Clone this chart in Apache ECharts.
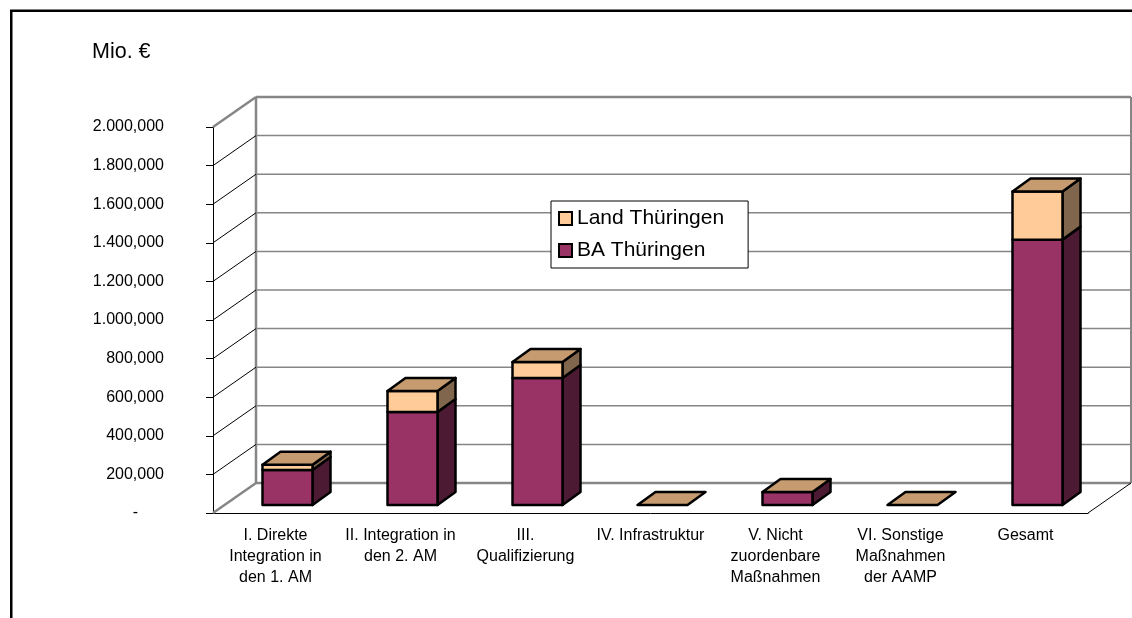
<!DOCTYPE html>
<html>
<head>
<meta charset="utf-8">
<script src="https://cdn.jsdelivr.net/npm/echarts@6/dist/echarts.min.js"></script>
<style>
	body { margin: 0; background: #fff; }
	#chart { width: 1132px; height: 618px; }
</style>
</head>
<body>
<div id="chart"></div>
<script>
var categories = [
	'I. Direkte\nIntegration in\nden 1. AM',
	'II. Integration in\nden 2. AM',
	'III.\nQualifizierung',
	'IV. Infrastruktur',
	'V. Nicht\nzuordenbare\nMaßnahmen',
	'VI. Sonstige\nMaßnahmen\nder AAMP',
	'Gesamt'
];
var baValues = [181000, 482000, 658000, 0, 67000, 0, 1375000];
var landValues = [28000, 109000, 83000, 0, 0, 0, 249000];
var yTickValues = [0, 200000, 400000, 600000, 800000, 1000000, 1200000, 1400000, 1600000, 1800000, 2000000];
var yTickLabels = ['-', '200,000', '400,000', '600,000', '800,000', '1.000,000', '1.200,000', '1.400,000', '1.600,000', '1.800,000', '2.000,000'];

(function (echarts) {
	var FONT = '"Liberation Sans", Arial, sans-serif';
	// schräge Tiefe der Wände und der Säulen
	var WALL_DX = 43, WALL_DY = 30;
	var FRONT_DX = 12, FRONT_DY = 8;
	var BAR_DX = 18, BAR_DY = 13;
	var GRAY = '#868686';

	var chart = echarts.init(document.getElementById('chart'));

	function assign(a, b) { for (var k in b) { a[k] = b[k]; } return a; }

	function renderWalls(params, api) {
		var cs = params.coordSys;
		var v = api.value(1);
		var y = api.coord([0, v])[1];
		var edge = (v === yTickValues[0] || v === yTickValues[yTickValues.length - 1]);
		var children = [
			{type: 'line', shape: {x1: cs.x + WALL_DX, y1: y - WALL_DY, x2: cs.x + cs.width + WALL_DX, y2: y - WALL_DY},
				style: {stroke: GRAY, lineWidth: edge ? 2.5 : 1.5}},
			{type: 'line', shape: {x1: cs.x, y1: y, x2: cs.x + WALL_DX, y2: y - WALL_DY},
				style: {stroke: edge ? GRAY : '#000', lineWidth: edge ? 2.5 : 1}}
		];
		if (params.dataIndex === 0) {
			children.push(
				{type: 'line', shape: {x1: cs.x + WALL_DX, y1: cs.y - WALL_DY, x2: cs.x + WALL_DX, y2: cs.y + cs.height - WALL_DY},
					style: {stroke: GRAY, lineWidth: 2.5}},
				{type: 'line', shape: {x1: cs.x + cs.width + WALL_DX, y1: cs.y - WALL_DY, x2: cs.x + cs.width + WALL_DX, y2: cs.y + cs.height - WALL_DY},
					style: {stroke: GRAY, lineWidth: 2}},
				{type: 'line', shape: {x1: cs.x + cs.width, y1: cs.y + cs.height, x2: cs.x + cs.width + WALL_DX, y2: cs.y + cs.height - WALL_DY},
					style: {stroke: '#000', lineWidth: 1}}
			);
		}
		return {type: 'group', children: children};
	}

	function makeBarRenderer(front, side, top) {
		return function (params, api) {
			var cat = api.value(0), lo = api.value(1), hi = api.value(2);
			var pLo = api.coord([cat, lo]);
			var pHi = api.coord([cat, hi]);
			var half = api.size([1, 0])[0] * 0.2;
			var xl = pLo[0] + FRONT_DX - half, xr = pLo[0] + FRONT_DX + half;
			var yb = pLo[1] - FRONT_DY, yt = pHi[1] - FRONT_DY;
			var line = {stroke: '#000', lineWidth: 2.5, lineJoin: 'round'};
			var children = [];
			if (yb - yt > 0.5) {
				children.push(
					{type: 'polygon', shape: {points: [[xr, yt], [xr + BAR_DX, yt - BAR_DY], [xr + BAR_DX, yb - BAR_DY], [xr, yb]]},
						style: assign({fill: side}, line)},
					{type: 'rect', shape: {x: xl, y: yt, width: xr - xl, height: yb - yt},
						style: assign({fill: front}, line)}
				);
			}
			if (top) {
				children.push({type: 'polygon', shape: {points: [[xl, yt], [xl + BAR_DX, yt - BAR_DY], [xr + BAR_DX, yt - BAR_DY], [xr, yt]]},
					style: assign({fill: top}, line)});
			}
			return {type: 'group', children: children};
		};
	}

	var baData = [], landData = [];
	for (var i = 0; i < categories.length; i++) {
		baData.push([i, 0, baValues[i]]);
		landData.push([i, baValues[i], baValues[i] + landValues[i]]);
	}

	chart.setOption({
		animation: false,
		textStyle: {fontFamily: FONT},
		title: {
			text: 'Mio. €',
			left: 92,
			top: 41,
			padding: 0,
			textStyle: {fontFamily: FONT, fontSize: 21.5, fontWeight: 'normal', color: '#000'}
		},
		graphic: [{
			type: 'polyline',
			shape: {points: [[11.25, 618], [11.25, 10.75], [1132, 10.75]]},
			style: {stroke: '#000', lineWidth: 2.5, fill: null},
			z: 100
		}],
		legend: {
			data: ['Land Thüringen', 'BA Thüringen'],
			orient: 'vertical',
			left: 551,
			top: 201,
			padding: [7, 24, 7, 7],
			itemGap: 11,
			itemWidth: 13,
			itemHeight: 13,
			icon: 'rect',
			backgroundColor: '#fff',
			borderColor: '#000',
			borderWidth: 1,
			textStyle: {fontFamily: FONT, fontSize: 21, color: '#000'},
			z: 20
		},
		grid: {left: 213, right: 44, top: 127, bottom: 105},
		xAxis: {
			type: 'category',
			data: categories,
			axisLine: {lineStyle: {color: '#000', width: 1}},
			axisTick: {length: 8, lineStyle: {color: '#000'}},
			axisLabel: {interval: 0, fontFamily: FONT, fontSize: 16, lineHeight: 21, margin: 12, color: '#000'},
			splitLine: {show: false}
		},
		yAxis: {
			type: 'value',
			min: 0,
			max: 2000000,
			interval: 200000,
			axisLine: {show: true, lineStyle: {color: '#000', width: 1}},
			axisTick: {show: true, length: 7, lineStyle: {color: '#000'}},
			axisLabel: {
				margin: 49,
				fontFamily: FONT,
				fontSize: 16,
				color: '#000',
				formatter: function (v) {
					var idx = yTickValues.indexOf(v);
					return idx === 0 ? '{d|-}' : yTickLabels[idx];
				},
				rich: {d: {fontFamily: FONT, fontSize: 16, color: '#000', padding: [0, 26, 0, 0]}}
			},
			splitLine: {show: false}
		},
		series: [
			{
				type: 'custom',
				name: 'walls',
				renderItem: renderWalls,
				data: yTickValues.map(function (v) { return [0, v]; }),
				clip: false,
				silent: true,
				z: 1
			},
			{
				type: 'custom',
				name: 'BA Thüringen',
				itemStyle: {color: '#993366', borderColor: '#000', borderWidth: 2},
				renderItem: makeBarRenderer('#993366', '#4D1A33', null),
				data: baData,
				clip: false,
				z: 5
			},
			{
				type: 'custom',
				name: 'Land Thüringen',
				itemStyle: {color: '#FFCC99', borderColor: '#000', borderWidth: 2},
				renderItem: makeBarRenderer('#FFCC99', '#80664D', '#C59B6F'),
				data: landData,
				clip: false,
				z: 6
			}
		]
	});
})(echarts);
</script>
</body>
</html>
